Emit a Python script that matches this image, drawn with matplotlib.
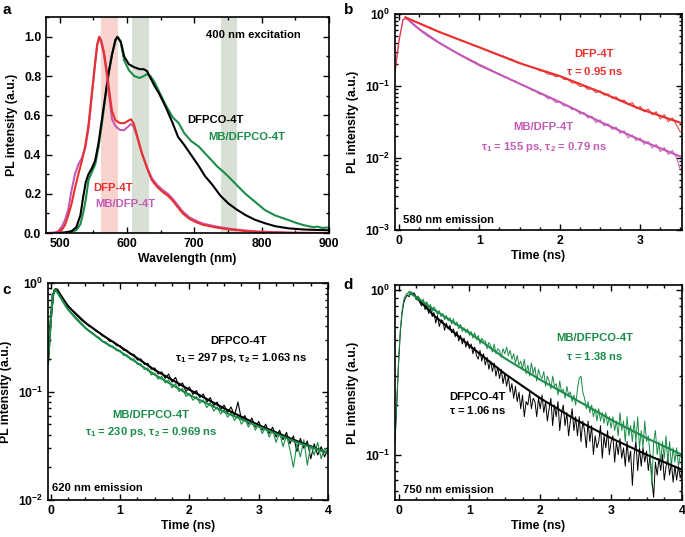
import numpy as np
import matplotlib

matplotlib.use("Agg")
import matplotlib.pyplot as plt
from matplotlib.ticker import MultipleLocator, NullFormatter, LogLocator, FormatStrFormatter

plt.rcParams.update({
    "font.family": "Liberation Sans",
    "font.weight": "bold",
    "axes.labelweight": "bold",
    "mathtext.fontset": "custom",
    "mathtext.rm": "Liberation Sans:bold",
    "mathtext.it": "Liberation Sans:bold:italic",
    "mathtext.bf": "Liberation Sans:bold",
    "mathtext.default": "rm",
    "axes.linewidth": 1.2,
})

RED = "#e8302d"
MAG = "#c35ab6"
GRN = "#1b8c48"
BLK = "#000000"
FS_TXT = 8.1
FS_TICK = 8.8

# ---------------- panel a: steady-state PL spectra ----------------
wl_dfp = [480, 493, 498, 503, 508, 513, 518, 523, 528, 533, 538, 543, 548, 553, 556, 559,
          562, 566, 570, 574, 578, 583, 590, 596, 601, 606, 610, 615, 622, 630, 637, 645,
          653, 661, 668, 676, 683, 693, 703, 713, 733, 753, 773, 793, 843, 900]
pl_dfp = [0, 0, 0.005, 0.015, 0.04, 0.09, 0.15, 0.23, 0.30, 0.365, 0.44, 0.55, 0.71, 0.87, 0.96, 1.0,
          0.98, 0.92, 0.83, 0.72, 0.62, 0.575, 0.56, 0.56, 0.57, 0.58, 0.56, 0.50, 0.41, 0.33, 0.27, 0.235,
          0.21, 0.19, 0.165, 0.13, 0.10, 0.072, 0.055, 0.042, 0.028, 0.018, 0.011, 0.006, 0.001, 0]
pl_mbdfp = [0, 0.003, 0.01, 0.03, 0.065, 0.12, 0.22, 0.30, 0.35, 0.38, 0.43, 0.53, 0.70, 0.87, 0.96, 1.0,
            0.97, 0.91, 0.81, 0.69, 0.58, 0.545, 0.525, 0.525, 0.54, 0.555, 0.545, 0.49, 0.41, 0.335, 0.28, 0.245,
            0.22, 0.20, 0.175, 0.14, 0.11, 0.08, 0.062, 0.048, 0.033, 0.022, 0.014, 0.008, 0.002, 0]

wl_dfpco = [480, 493, 508, 518, 525, 531, 535, 539, 543, 548, 553, 558, 563, 568, 573, 578, 583,
            586, 591, 596, 603, 611, 619, 625, 630, 635, 641, 648, 658, 668, 676, 685, 695, 707,
            716, 726, 739, 751, 763, 776, 790, 805, 820, 840, 863, 900]
pl_dfpco = [0, 0, 0.003, 0.01, 0.03, 0.09, 0.18, 0.26, 0.30, 0.33, 0.37, 0.46, 0.58, 0.70, 0.82, 0.91, 0.985,
            1.0, 0.975, 0.90, 0.86, 0.845, 0.835, 0.835, 0.825, 0.79, 0.75, 0.71, 0.64, 0.56, 0.49, 0.45, 0.40, 0.34,
            0.29, 0.25, 0.19, 0.15, 0.12, 0.092, 0.068, 0.05, 0.035, 0.024, 0.018, 0.014]

wl_mbdfpco = [480, 493, 508, 518, 525, 531, 535, 539, 543, 548, 553, 558, 563, 568, 573, 578, 583,
              586, 591, 596, 603, 611, 619, 625, 630, 635, 641, 648, 658, 668, 677, 685, 695, 707,
              715, 726, 734, 744, 751, 763, 776, 790, 805, 820, 840, 853, 863, 871, 877, 883, 890, 900]
pl_mbdfpco = [0, 0, 0.002, 0.006, 0.015, 0.045, 0.10, 0.17, 0.27, 0.31, 0.35, 0.44, 0.56, 0.69, 0.81, 0.91, 0.98,
              1.0, 0.97, 0.88, 0.83, 0.80, 0.79, 0.80, 0.81, 0.80, 0.77, 0.72, 0.65, 0.59, 0.56, 0.51, 0.47, 0.44,
              0.41, 0.37, 0.34, 0.31, 0.287, 0.245, 0.20, 0.16, 0.117, 0.09, 0.066, 0.05, 0.04, 0.034, 0.03, 0.033, 0.026, 0.029]

bands = [(562, 587, "#f9d3ce"), (607, 633, "#d8e0d5"), (740, 764, "#d8e0d5")]

# ---------------- panel b: 580 nm emission decays ----------------
b_dfp = [0.15, 0.42, 0.83, 0.89, 0.83, 0.79, 0.75, 0.715, 0.67, 0.645,
         0.60, 0.575, 0.54, 0.52, 0.49, 0.47, 0.44, 0.425, 0.40, 0.385,
         0.36, 0.35, 0.33, 0.315, 0.298, 0.285, 0.27, 0.26, 0.245, 0.237,
         0.222, 0.212, 0.199, 0.193, 0.181, 0.176, 0.163, 0.161, 0.147, 0.145,
         0.135, 0.139, 0.124, 0.123, 0.111, 0.110, 0.099, 0.101, 0.090, 0.092,
         0.081, 0.086, 0.075, 0.078, 0.068, 0.071, 0.062, 0.064, 0.055, 0.059,
         0.049, 0.052, 0.044, 0.048, 0.040, 0.044, 0.035, 0.040, 0.032, 0.036,
         0.029, 0.023]
b_mbdfp = [0.16, 0.44, 0.84, 0.88, 0.77, 0.68, 0.61, 0.55, 0.50, 0.46,
           0.425, 0.395, 0.365, 0.34, 0.318, 0.298, 0.28, 0.262, 0.246, 0.23,
           0.216, 0.20, 0.19, 0.178, 0.167, 0.156, 0.148, 0.137, 0.131, 0.121,
           0.117, 0.107, 0.101, 0.096, 0.088, 0.085, 0.077, 0.076, 0.067, 0.067,
           0.059, 0.061, 0.053, 0.054, 0.047, 0.048, 0.041, 0.043, 0.036, 0.038,
           0.031, 0.034, 0.028, 0.030, 0.025, 0.027, 0.022, 0.024, 0.019, 0.021,
           0.0175, 0.019, 0.0155, 0.017, 0.0138, 0.0155, 0.0123, 0.014, 0.0112, 0.0128,
           0.0102, 0.0068]
b_fit_t_dfp = [0.08, 0.5, 1.0, 1.5, 2.0, 2.5, 3.0, 3.5]
b_fit_dfp = [0.9, 0.565, 0.345, 0.208, 0.138, 0.083, 0.048, 0.031]
b_fit_t_mb = [0.08, 0.25, 0.5, 0.75, 1.0, 1.5, 2.0, 2.5, 3.0, 3.5]
b_fit_mb = [0.9, 0.62, 0.40, 0.275, 0.195, 0.108, 0.060, 0.032, 0.0178, 0.0105]

# ---------------- panel c: 620 nm emission decays ----------------
c_dfpco = [0.17, 0.46, 0.87, 0.88, 0.77, 0.68, 0.62, 0.565, 0.52, 0.485,
           0.45, 0.435, 0.40, 0.39, 0.36, 0.35, 0.325, 0.315, 0.29, 0.29,
           0.265, 0.265, 0.24, 0.24, 0.22, 0.22, 0.195, 0.20, 0.178, 0.182,
           0.16, 0.165, 0.145, 0.152, 0.132, 0.145, 0.122, 0.135, 0.112, 0.12,
           0.10, 0.11, 0.094, 0.102, 0.088, 0.095, 0.08, 0.088, 0.074, 0.08,
           0.068, 0.075, 0.064, 0.072, 0.06, 0.08, 0.055, 0.06, 0.05, 0.057,
           0.047, 0.053, 0.044, 0.05, 0.041, 0.047, 0.038, 0.044, 0.036, 0.042,
           0.033, 0.039, 0.028, 0.037, 0.03, 0.035, 0.024, 0.033, 0.026, 0.031,
           0.025, 0.03]
c_mbdfpco = [0.17, 0.44, 0.86, 0.85, 0.72, 0.63, 0.57, 0.52, 0.475, 0.44,
             0.41, 0.39, 0.36, 0.35, 0.325, 0.315, 0.29, 0.285, 0.26, 0.262,
             0.238, 0.24, 0.215, 0.218, 0.196, 0.20, 0.178, 0.18, 0.16, 0.165,
             0.142, 0.148, 0.13, 0.138, 0.12, 0.128, 0.108, 0.118, 0.10, 0.107,
             0.09, 0.096, 0.083, 0.09, 0.078, 0.084, 0.071, 0.079, 0.066, 0.072,
             0.062, 0.068, 0.058, 0.064, 0.054, 0.06, 0.05, 0.056, 0.047, 0.053,
             0.044, 0.05, 0.041, 0.047, 0.038, 0.044, 0.034, 0.042, 0.031, 0.04,
             0.029, 0.02, 0.033, 0.025, 0.036, 0.021, 0.032, 0.026, 0.034, 0.024,
             0.03, 0.027]
c_fit_t = [-0.04, 0.0, 0.03, 0.07, 0.15, 0.25, 0.5, 0.75, 1.0, 1.5, 2.0, 2.5, 3.0, 3.5, 4.0]
c_fit_dfpco = [0.18, 0.45, 0.78, 0.88, 0.76, 0.61, 0.43, 0.33, 0.26, 0.158, 0.104, 0.070, 0.049, 0.036, 0.027]
c_fit_mb = [0.18, 0.44, 0.77, 0.87, 0.72, 0.57, 0.385, 0.29, 0.234, 0.143, 0.093, 0.065, 0.0475, 0.035, 0.027]

# ---------------- panel d: 750 nm emission decays ----------------
d_dfpco = [0.12, 0.20, 0.35, 0.55, 0.72, 0.84, 0.90, 0.93, 0.91, 0.96, 0.93,
           0.96, 0.88, 0.91, 0.84, 0.80, 0.86, 0.76, 0.81, 0.72, 0.78, 0.69, 0.73,
           0.63, 0.70, 0.60, 0.66, 0.65, 0.57, 0.63, 0.58, 0.61, 0.55, 0.58, 0.52,
           0.56, 0.49, 0.53, 0.47, 0.51, 0.45, 0.49, 0.44, 0.47, 0.41, 0.45, 0.40,
           0.38, 0.43, 0.37, 0.41, 0.35, 0.39, 0.33, 0.37, 0.32, 0.36, 0.30, 0.34,
           0.29, 0.33, 0.27, 0.31, 0.26, 0.30, 0.24, 0.27, 0.22, 0.26, 0.21, 0.24,
           0.19, 0.23, 0.17, 0.21, 0.20, 0.24, 0.19, 0.22, 0.21, 0.17, 0.22, 0.19,
           0.23, 0.18, 0.21, 0.16, 0.19, 0.22, 0.15, 0.20, 0.17, 0.21, 0.14, 0.18,
           0.20, 0.15, 0.18, 0.13, 0.16, 0.19, 0.14, 0.17, 0.13, 0.17, 0.12, 0.16,
           0.14, 0.11, 0.16, 0.12, 0.15, 0.10, 0.13, 0.11, 0.12, 0.15, 0.095, 0.13,
           0.11, 0.14, 0.10, 0.12, 0.13, 0.09, 0.12, 0.10, 0.125, 0.095, 0.11, 0.085,
           0.12, 0.09, 0.105, 0.065, 0.10, 0.12, 0.08, 0.11, 0.085, 0.11, 0.09, 0.105,
           0.08, 0.10, 0.07, 0.055, 0.09, 0.075, 0.095, 0.08, 0.10, 0.07, 0.085, 0.095,
           0.075, 0.09, 0.068, 0.085, 0.07, 0.085, 0.072, 0.08]
d_mbdfpco = [0.12, 0.21, 0.37, 0.57, 0.75, 0.88, 0.93, 0.96, 0.92, 0.98, 0.94,
             0.95, 0.87, 0.92, 0.89, 0.83, 0.88, 0.80, 0.85, 0.77, 0.82, 0.74, 0.79,
             0.76, 0.71, 0.75, 0.69, 0.72, 0.66, 0.70, 0.65, 0.68, 0.62, 0.67, 0.61,
             0.64, 0.58, 0.62, 0.56, 0.59, 0.55, 0.58, 0.53, 0.56, 0.51, 0.55, 0.50,
             0.53, 0.47, 0.51, 0.49, 0.49, 0.44, 0.48, 0.46, 0.42, 0.47, 0.41, 0.44,
             0.43, 0.39, 0.44, 0.41, 0.45, 0.40, 0.43, 0.38, 0.41, 0.36, 0.40, 0.35,
             0.37, 0.33, 0.38, 0.31, 0.35, 0.30, 0.36, 0.31, 0.34, 0.28, 0.33, 0.30,
             0.29, 0.32, 0.26, 0.30, 0.28, 0.25, 0.30, 0.26, 0.27, 0.23, 0.28, 0.24,
             0.25, 0.22, 0.26, 0.23, 0.24, 0.21, 0.23, 0.20, 0.25, 0.29, 0.30, 0.24,
             0.22, 0.19, 0.21, 0.18, 0.20, 0.17, 0.19, 0.16, 0.19, 0.16, 0.18, 0.155,
             0.18, 0.15, 0.17, 0.145, 0.17, 0.14, 0.16, 0.13, 0.18, 0.14, 0.16, 0.12,
             0.17, 0.13, 0.15, 0.12, 0.16, 0.12, 0.17, 0.11, 0.14, 0.11, 0.16, 0.12,
             0.13, 0.10, 0.065, 0.12, 0.14, 0.10, 0.12, 0.09, 0.12, 0.095, 0.13, 0.09,
             0.12, 0.085, 0.11, 0.09, 0.11, 0.085, 0.10, 0.095]
d_fit_t_dfpco = [0.2, 0.5, 1.0, 1.5, 2.0, 2.5, 3.0, 3.5, 4.0]
d_fit_dfpco = [0.95, 0.70, 0.46, 0.31, 0.22, 0.163, 0.126, 0.10, 0.081]
d_fit_t_mb = [0.15, 0.5, 1.0, 1.5, 2.0, 2.5, 3.0, 3.5, 4.0]
d_fit_mb = [0.97, 0.76, 0.55, 0.385, 0.285, 0.216, 0.163, 0.126, 0.10]


def time_axis(values, start, step):
    return start + step * np.arange(len(values))


def style(ax, log=False):
    ax.tick_params(which="both", direction="in", top=True, right=True, labelsize=FS_TICK, width=1.0)
    ax.tick_params(which="major", length=4)
    ax.tick_params(which="minor", length=2.2)
    if log:
        ax.set_yscale("log")
        ax.yaxis.set_major_locator(LogLocator(base=10))
        ax.yaxis.set_minor_locator(LogLocator(base=10, subs=np.arange(2, 10)))
        ax.yaxis.set_minor_formatter(NullFormatter())
    ax.set_ylabel("PL intensity (a.u.)", fontsize=FS_TICK, labelpad=4)


fig = plt.figure(figsize=(6.85, 5.37), dpi=100)

# ---- a
ax = fig.add_axes([0.0672, 0.566, 0.413, 0.402])
for lo, hi, col in bands:
    ax.axvspan(lo, hi, color=col, lw=0, zorder=0)
ax.plot(wl_mbdfpco, pl_mbdfpco, color=GRN, lw=1.5)
ax.plot(wl_dfpco, pl_dfpco, color=BLK, lw=1.5)
ax.plot(wl_dfp, pl_mbdfp, color=MAG, lw=1.5)
ax.plot(wl_dfp, pl_dfp, color=RED, lw=1.5)
ax.set_xlim(480, 900)
ax.set_ylim(0, 1.1)
ax.xaxis.set_major_locator(MultipleLocator(100))
ax.xaxis.set_minor_locator(MultipleLocator(50))
ax.yaxis.set_major_locator(MultipleLocator(0.2))
ax.yaxis.set_minor_locator(MultipleLocator(0.1))
ax.yaxis.set_major_formatter(FormatStrFormatter("%.1f"))
style(ax)
ax.set_xlabel("Wavelength (nm)", fontsize=FS_TICK, labelpad=2)
ax.text(788, 1.01, "400 nm excitation", fontsize=FS_TXT, ha="center", va="center")
ax.text(732, 0.576, "DFPCO-4T", fontsize=FS_TXT, ha="center", va="center", color=BLK)
ax.text(778, 0.49, "MB/DFPCO-4T", fontsize=FS_TXT, ha="center", va="center", color=GRN)
ax.text(579, 0.23, "DFP-4T", fontsize=FS_TXT, ha="center", va="center", color=RED)
ax.text(597, 0.15, "MB/DFP-4T", fontsize=FS_TXT, ha="center", va="center", color=MAG)
fig.text(0.004, 0.982, "a", fontsize=11, fontweight="bold", va="center")

# ---- b
ax = fig.add_axes([0.5766, 0.5717, 0.419, 0.402])
tb = time_axis(b_dfp, -0.05, 0.05)
ax.plot(tb, b_mbdfp, color=MAG, lw=0.8, alpha=0.9)
ax.plot(tb, b_dfp, color=RED, lw=0.8, alpha=0.9)
ax.plot(b_fit_t_mb, b_fit_mb, color=MAG, lw=1.5)
ax.plot(b_fit_t_dfp, b_fit_dfp, color=RED, lw=1.5)
style(ax, log=True)
ax.set_xlim(-0.05, 3.52)
ax.set_ylim(1e-3, 1)
ax.xaxis.set_major_locator(MultipleLocator(1))
ax.xaxis.set_minor_locator(MultipleLocator(0.25))
ax.set_xlabel("Time (ns)", fontsize=FS_TICK, labelpad=2)
ax.text(2.43, 0.28, "DFP-4T", fontsize=FS_TXT, ha="center", va="center", color=RED)
ax.text(2.43, 0.164, r"$\mathrm{\tau}$ = 0.95 ns", fontsize=FS_TXT, ha="center", va="center", color=RED)
ax.text(1.80, 0.027, "MB/DFP-4T", fontsize=FS_TXT, ha="center", va="center", color=MAG)
ax.text(1.80, 0.0142, r"$\mathrm{\tau_1}$ = 155 ps, $\mathrm{\tau_2}$ = 0.79 ns", fontsize=FS_TXT,
        ha="center", va="center", color=MAG)
ax.text(0.05, 0.00138, "580 nm emission", fontsize=FS_TXT, ha="left", va="center")
fig.text(0.502, 0.982, "b", fontsize=11, fontweight="bold", va="center")

# ---- c
ax = fig.add_axes([0.070, 0.0689, 0.409, 0.404])
tc = time_axis(c_dfpco, -0.05, 0.05)
ax.plot(tc, c_dfpco, color=BLK, lw=0.8)
ax.plot(tc, c_mbdfpco, color=GRN, lw=0.8)
ax.plot(c_fit_t, c_fit_dfpco, color=BLK, lw=1.5)
ax.plot(c_fit_t, c_fit_mb, color=GRN, lw=1.5)
style(ax, log=True)
ax.set_xlim(-0.04, 4.0)
ax.set_ylim(1e-2, 1)
ax.xaxis.set_major_locator(MultipleLocator(1))
ax.xaxis.set_minor_locator(MultipleLocator(0.25))
ax.set_xlabel("Time (ns)", fontsize=FS_TICK, labelpad=2)
ax.text(2.70, 0.29, "DFPCO-4T", fontsize=FS_TXT, ha="center", va="center", color=BLK)
ax.text(2.75, 0.203, r"$\mathrm{\tau_1}$ = 297 ps, $\mathrm{\tau_2}$ = 1.063 ns", fontsize=FS_TXT,
        ha="center", va="center", color=BLK)
ax.text(1.445, 0.061, "MB/DFPCO-4T", fontsize=FS_TXT, ha="center", va="center", color=GRN)
ax.text(1.445, 0.0427, r"$\mathrm{\tau_1}$ = 230 ps, $\mathrm{\tau_2}$ = 0.969 ns", fontsize=FS_TXT,
        ha="center", va="center", color=GRN)
ax.text(0.02, 0.0128, "620 nm emission", fontsize=FS_TXT, ha="left", va="center")
fig.text(0.004, 0.46, "c", fontsize=11, fontweight="bold", va="center")

# ---- d
ax = fig.add_axes([0.5766, 0.0689, 0.419, 0.400])
td = time_axis(d_dfpco, -0.05, 0.025)
ax.plot(td, d_dfpco, color=BLK, lw=0.7)
ax.plot(td, d_mbdfpco, color=GRN, lw=0.7)
ax.plot(d_fit_t_dfpco, d_fit_dfpco, color=BLK, lw=1.5)
ax.plot(d_fit_t_mb, d_fit_mb, color=GRN, lw=1.5)
style(ax, log=True)
ax.set_xlim(-0.05, 4.0)
ax.set_ylim(0.053, 1.07)
ax.xaxis.set_major_locator(MultipleLocator(1))
ax.xaxis.set_minor_locator(MultipleLocator(0.25))
ax.set_xlabel("Time (ns)", fontsize=FS_TICK, labelpad=2)
ax.text(2.77, 0.51, "MB/DFPCO-4T", fontsize=FS_TXT, ha="center", va="center", color=GRN)
ax.text(2.77, 0.40, r"$\mathrm{\tau}$ = 1.38 ns", fontsize=FS_TXT, ha="center", va="center", color=GRN)
ax.text(1.115, 0.225, "DFPCO-4T", fontsize=FS_TXT, ha="center", va="center", color=BLK)
ax.text(1.115, 0.187, r"$\mathrm{\tau}$ = 1.06 ns", fontsize=FS_TXT, ha="center", va="center", color=BLK)
ax.text(0.07, 0.061, "750 nm emission", fontsize=FS_TXT, ha="left", va="center")
fig.text(0.502, 0.47, "d", fontsize=11, fontweight="bold", va="center")

fig.savefig("out.png", dpi=100)
